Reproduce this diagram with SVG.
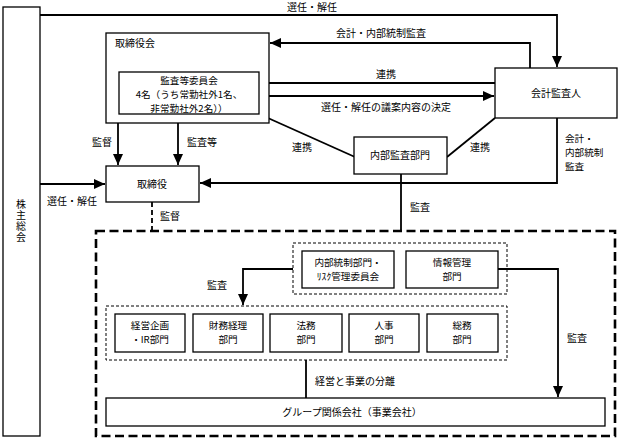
<svg xmlns="http://www.w3.org/2000/svg" width="620" height="439" viewBox="0 0 620 439">
<style>
text{font-family:"Noto Sans CJK JP","Noto Sans",sans-serif;font-size:10px;fill:#000}
text.m{font-size:9.6px}
.c{text-anchor:middle}
.box{fill:#fff;stroke:#000;stroke-width:1.3}
.ln{fill:none;stroke:#000;stroke-width:1.8}
.dg{fill:none;stroke:#000;stroke-width:1;stroke-dasharray:3 2}
.big{fill:none;stroke:#000;stroke-width:2.6;stroke-dasharray:9 4.5}
</style>
<defs>
<marker id="ah" markerUnits="userSpaceOnUse" markerWidth="12" markerHeight="10" refX="11" refY="5" orient="auto">
<path d="M0,0 L11,5 L0,10 z" fill="#000"/>
</marker>
</defs>
<rect width="620" height="439" fill="#fff"/>

<g id="connectors">
<path class="ln" d="M40,15 H557 V67" marker-end="url(#ah)"/>
<path class="ln" d="M530,68 V43 H270" marker-end="url(#ah)"/>
<path class="ln" d="M259,83 H495"/>
<path class="ln" d="M259,96 H494" marker-end="url(#ah)"/>
<path class="ln" d="M259,114 L355,157"/>
<path class="ln" d="M447,157 L495,118"/>
<path class="ln" d="M557,118 V183 H200" marker-end="url(#ah)"/>
<path class="ln" d="M40,184 H105" marker-end="url(#ah)"/>
<path class="ln" d="M118,123 V165" marker-end="url(#ah)"/>
<path class="ln" d="M178,114 V165" marker-end="url(#ah)"/>
<path class="ln" d="M152,202 V231" stroke-dasharray="5 3"/>
<path class="ln" d="M401,174 V231"/>
<path class="ln" d="M293,269 H243 V305" marker-end="url(#ah)"/>
<path class="ln" d="M306,360 V398"/>
<path class="ln" d="M498,269 H558 V397" marker-end="url(#ah)"/>
<text x="312" y="11" class="c">選任・解任</text>
<text x="381" y="37" class="c">会計・内部統制監査</text>
<text x="386" y="78" class="c">連携</text>
<text x="386" y="111" class="c">選任・解任の議案内容の決定</text>
<text x="302" y="151" class="c">連携</text>
<text x="480" y="151" class="c">連携</text>
<text x="565" y="141.5" class="m">会計・<tspan x="565" dy="14">内部統制</tspan><tspan x="565" dy="14">監査</tspan></text>
<text x="72" y="205" class="c">選任・解任</text>
<text x="102" y="146" class="c">監督</text>
<text x="202" y="146" class="c">監査等</text>
<text x="170" y="220" class="c">監督</text>
<text x="420" y="211" class="c">監査</text>
<text x="217" y="289" class="c">監査</text>
<text x="315" y="385">経営と事業の分離</text>
<text x="577" y="342" class="c">監査</text>
</g>

<g id="kabunushi">
<rect class="box" x="3" y="7" width="37" height="429"/>
<text x="21" y="199" style="writing-mode:vertical-rl;letter-spacing:1px">株主総会</text>
</g>

<g id="torishimariyakukai">
<rect class="box" x="106" y="33" width="163" height="90"/>
<text x="115" y="47">取締役会</text>
</g>

<g id="kansa-iinkai">
<rect class="box" x="119" y="72" width="140" height="42"/>
<text x="189" y="83.5" class="c m">監査等委員会<tspan x="189" dy="14">4名（うち常勤社外1名、</tspan><tspan x="189" dy="14">非常勤社外2名））</tspan></text>
</g>

<g id="kaikei-kansanin">
<rect class="box" x="495" y="68" width="122" height="50"/>
<text x="556" y="97" class="c">会計監査人</text>
</g>

<g id="naibu-kansa">
<rect class="box" x="354" y="137" width="93" height="37"/>
<text x="400" y="159" class="c">内部監査部門</text>
</g>

<g id="torishimariyaku">
<rect class="box" x="106" y="166" width="93" height="36"/>
<text x="152" y="188" class="c">取締役</text>
</g>

<g id="group-frame">
<rect class="big" x="96" y="231" width="519" height="205"/>
</g>

<g id="upper-group">
<rect class="dg" x="293" y="243" width="214" height="51"/>
</g>
<g id="naibu-tosei">
<rect class="box" x="302" y="251" width="92" height="37"/>
<text x="348" y="265.5" class="c m">内部統制部門・<tspan x="348" dy="14">ﾘｽｸ管理委員会</tspan></text>
</g>
<g id="joho-kanri">
<rect class="box" x="406" y="251" width="92" height="37"/>
<text x="452" y="265.5" class="c m">情報管理<tspan x="452" dy="14">部門</tspan></text>
</g>

<g id="lower-group">
<rect class="dg" x="106" y="306" width="401" height="54"/>
</g>
<g id="keiei-kikaku">
<rect class="box" x="115" y="314" width="70" height="38"/>
<text x="150" y="328.5" class="c m">経営企画<tspan x="150" dy="14">・IR部門</tspan></text>
</g>
<g id="zaimu">
<rect class="box" x="193" y="314" width="70" height="38"/>
<text x="228" y="328.5" class="c m">財務経理<tspan x="228" dy="14">部門</tspan></text>
</g>
<g id="homu">
<rect class="box" x="270" y="314" width="72" height="38"/>
<text x="306" y="328.5" class="c m">法務<tspan x="306" dy="14">部門</tspan></text>
</g>
<g id="jinji">
<rect class="box" x="349" y="314" width="70" height="38"/>
<text x="384" y="328.5" class="c m">人事<tspan x="384" dy="14">部門</tspan></text>
</g>
<g id="somu">
<rect class="box" x="427" y="314" width="71" height="38"/>
<text x="462" y="328.5" class="c m">総務<tspan x="462" dy="14">部門</tspan></text>
</g>

<g id="group-kaisha">
<rect class="box" x="106" y="398" width="499" height="28"/>
<text x="352" y="416" class="c">グループ関係会社（事業会社）</text>
</g>
</svg>
